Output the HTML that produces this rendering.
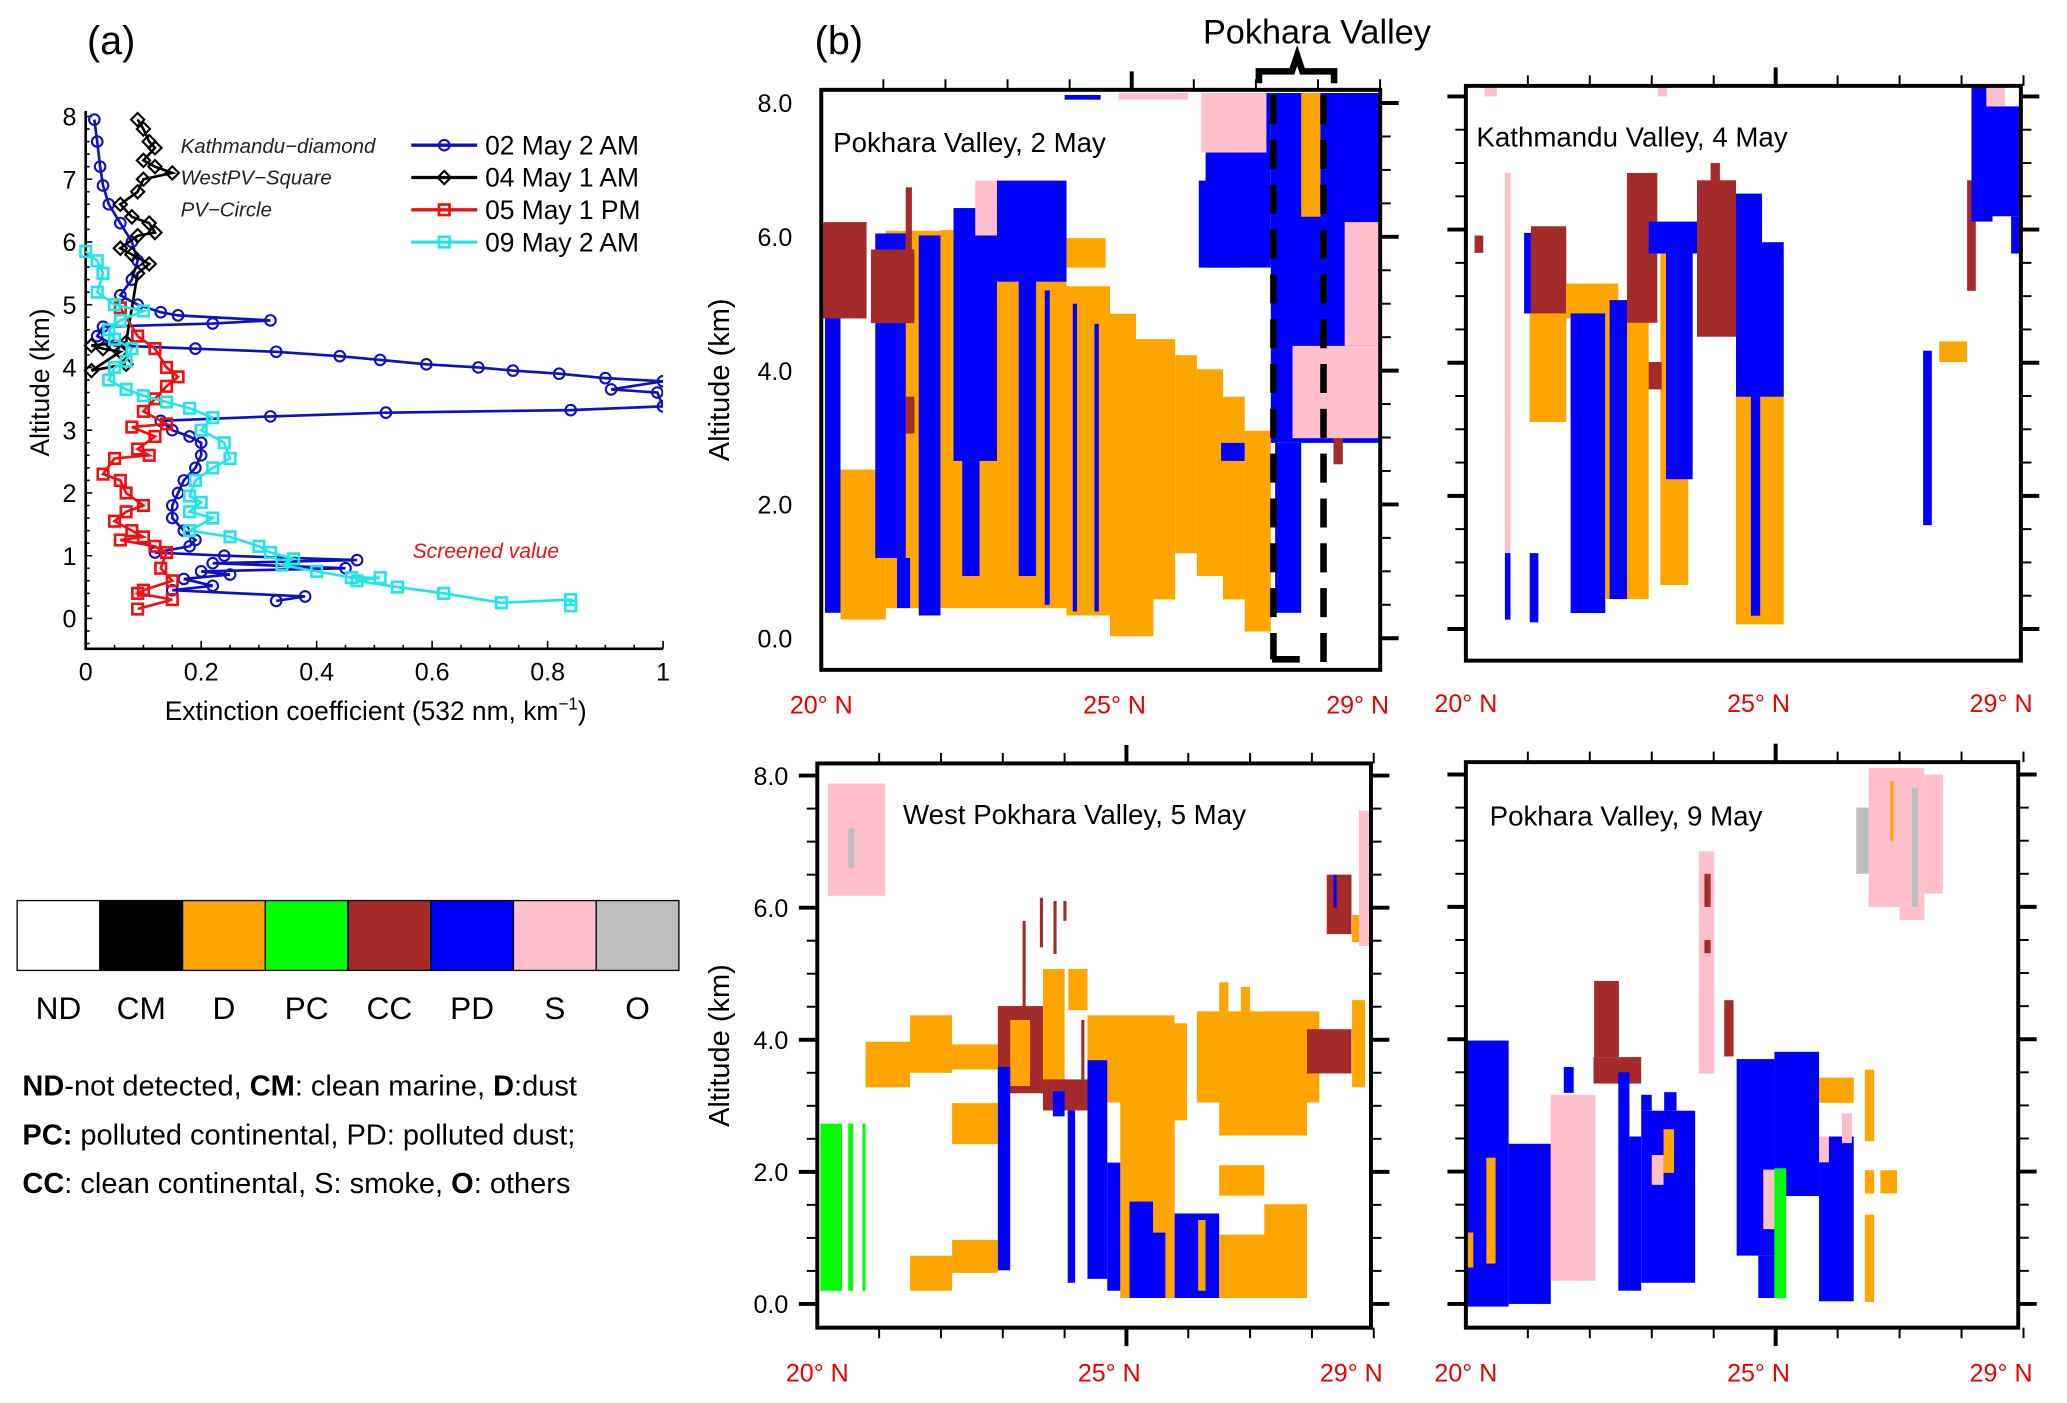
<!DOCTYPE html>
<html><head><meta charset="utf-8"><style>
html,body{margin:0;padding:0;background:#fff}
svg{display:block}
text{font-family:"Liberation Sans",sans-serif}
</style></head><body>
<svg id="root" width="2067" height="1403" viewBox="0 0 1568 1064" xmlns="http://www.w3.org/2000/svg">
<rect width="1568" height="1064" fill="#fff"/>
<text x="66" y="41" font-size="30">(a)</text>
<text x="618" y="41" font-size="30">(b)</text>
<text x="999" y="33" font-size="26" text-anchor="middle">Pokhara Valley</text>
<path d="M955,63 L955,54 L980,54 L984,42 L988,54 L1012,54 L1012,63" fill="none" stroke="#000" stroke-width="5"/>
<g id="pa"></g>
<g id="leg"></g>
<g id="c1"></g>
<g id="c2"></g>
<g id="c3"></g>
<g id="c4"></g>
<text x="17" y="831" font-size="22"><tspan font-weight="bold">ND</tspan>-not detected, <tspan font-weight="bold">CM</tspan>: clean marine, <tspan font-weight="bold">D</tspan>:dust</text>
<text x="17" y="868" font-size="22"><tspan font-weight="bold">PC:</tspan> polluted continental, PD: polluted dust;</text>
<text x="17" y="905" font-size="22"><tspan font-weight="bold">CC</tspan>: clean continental, S: smoke, <tspan font-weight="bold">O</tspan>: others</text>
<g id="dash">
<line x1="966" y1="72" x2="966" y2="500" stroke="#000" stroke-width="5" stroke-dasharray="22,12"/>
<line x1="1004" y1="72" x2="1004" y2="502" stroke="#000" stroke-width="5" stroke-dasharray="22,12"/>
<line x1="965" y1="500" x2="986" y2="500" stroke="#000" stroke-width="5"/>
</g>
</svg>
<script>
const NS="http://www.w3.org/2000/svg";
// ---- Panel (a) data ----
const blueX=[0.015,0.02,0.025,0.03,0.04,0.06,0.08,0.09,0.08,0.06,0.09,0.13,0.16,0.32,0.22,0.03,0.02,0.05,0.19,0.33,0.44,0.51,0.59,0.68,0.74,0.82,0.9,1.0,0.91,0.99,1.0,0.84,0.52,0.32,0.13,0.15,0.18,0.2,0.2,0.19,0.17,0.16,0.15,0.15,0.17,0.19,0.18,0.12,0.24,0.47,0.22,0.45,0.2,0.25,0.17,0.22,0.15,0.38,0.33];
const blueY=[7.95,7.6,7.2,6.9,6.6,6.3,6.0,5.7,5.4,5.15,5.0,4.88,4.83,4.75,4.7,4.65,4.5,4.35,4.3,4.25,4.18,4.12,4.05,4.0,3.95,3.9,3.83,3.78,3.65,3.6,3.38,3.32,3.28,3.22,3.15,3.0,2.9,2.8,2.6,2.4,2.2,2.0,1.8,1.6,1.4,1.25,1.15,1.05,1.0,0.93,0.88,0.8,0.75,0.7,0.63,0.52,0.45,0.35,0.28];
const blackX=[0.09,0.1,0.11,0.12,0.1,0.12,0.15,0.1,0.09,0.06,0.08,0.11,0.12,0.09,0.06,0.08,0.11,0.09,0.07,0.01,0.03,0.06,0.01,0.07];
const blackY=[7.95,7.8,7.6,7.5,7.3,7.2,7.1,7.0,6.8,6.6,6.4,6.3,6.15,6.1,5.9,5.8,5.65,5.5,4.4,4.35,4.3,4.25,3.95,4.05];
const redX=[0.06,0.09,0.12,0.14,0.16,0.14,0.12,0.1,0.14,0.08,0.12,0.09,0.11,0.05,0.03,0.06,0.07,0.1,0.07,0.05,0.08,0.1,0.06,0.12,0.14,0.13,0.15,0.1,0.09,0.15,0.09];
const redY=[4.95,4.5,4.3,4.0,3.85,3.7,3.5,3.3,3.1,3.05,2.9,2.7,2.6,2.55,2.3,2.2,2.0,1.8,1.7,1.55,1.4,1.3,1.25,1.15,1.05,0.8,0.6,0.45,0.4,0.3,0.15];
const cyanX=[0.0,0.02,0.03,0.02,0.05,0.1,0.06,0.04,0.05,0.08,0.07,0.05,0.04,0.07,0.1,0.14,0.18,0.22,0.2,0.24,0.25,0.22,0.19,0.18,0.2,0.18,0.22,0.18,0.25,0.3,0.32,0.36,0.34,0.4,0.46,0.51,0.47,0.54,0.62,0.72,0.84,0.84];
const cyanY=[5.85,5.7,5.5,5.2,5.0,4.9,4.75,4.6,4.45,4.3,4.1,4.0,3.8,3.65,3.55,3.45,3.35,3.2,3.0,2.8,2.55,2.4,2.2,1.95,1.85,1.7,1.6,1.4,1.3,1.15,1.05,0.95,0.85,0.75,0.65,0.65,0.6,0.5,0.4,0.25,0.3,0.2];
const xTicksA=[0,0.2,0.4,0.6,0.8,1];
const xTickLabelsA=["0","0.2","0.4","0.6","0.8","1"];
const yTicksA=[0,1,2,3,4,5,6,7,8];
const legendLabels=["02 May  2 AM","04 May  1 AM","05 May  1 PM","09 May  2 AM"];
// ---- Colorbar ----
const typeCodes=["ND","CM","D","PC","CC","PD","S","O"];
const typeColors={ND:"#ffffff",CM:"#000000",D:"#FFA500",PC:"#00FF00",CC:"#A52A2A",PD:"#0000FF",S:"#FFC0CB",O:"#BEBEBE"};
// ---- Curtain data: [lat0, lat1, alt0, alt1, type] ----
const c1Segs=[
[20.31,21.04,0.28,2.52,"D"],[21.04,21.92,0.45,6.09,"D"],[21.92,22.83,0.45,6.1,"D"],[22.83,23.95,0.45,5.6,"D"],[23.95,24.65,0.34,5.26,"D"],[24.65,25.07,0.03,4.85,"D"],[25.07,25.35,0.03,4.47,"D"],[25.35,25.7,0.58,4.47,"D"],[25.7,26.05,1.27,4.23,"D"],[26.05,26.47,0.93,4.02,"D"],[26.47,26.82,0.58,3.61,"D"],[26.82,27.24,0.1,3.1,"D"],[23.95,24.58,5.54,5.98,"D"],[27.73,28.04,6.3,8.15,"D"],[28.22,28.99,6.7,7.67,"D"],
[20.06,20.31,0.38,6.19,"PD"],[20.87,21.36,1.2,6.05,"PD"],[21.22,21.43,0.45,1.2,"PD"],[21.57,21.92,0.34,6.02,"PD"],[22.13,22.83,2.65,6.43,"PD"],[22.27,22.55,0.93,2.65,"PD"],[22.83,23.95,5.33,6.84,"PD"],[23.18,23.46,0.93,5.4,"PD"],[23.6,23.68,0.5,5.2,"PD"],[24.05,24.12,0.4,5.0,"PD"],[24.4,24.47,0.4,4.7,"PD"],[23.92,24.5,8.05,8.12,"PD"],[26.08,26.75,5.54,6.84,"PD"],[26.19,27.24,5.54,8.15,"PD"],[26.44,26.82,2.65,2.92,"PD"],[27.24,28.99,2.92,8.15,"PD"],[27.31,27.73,0.38,2.92,"PD"],
[20.03,20.73,4.78,6.22,"CC"],[20.8,21.5,4.71,5.81,"CC"],[21.36,21.46,5.8,6.74,"CC"],[21.36,21.5,3.06,3.61,"CC"],[28.25,28.4,2.6,4.2,"CC"],
[22.48,22.83,6.02,6.84,"S"],[26.12,27.17,7.26,8.15,"S"],[27.59,28.99,2.99,4.37,"S"],[28.43,28.99,4.37,6.22,"S"],[24.79,25.91,8.05,8.15,"S"],[27.73,28.04,6.3,8.15,"D"]];
const c2Segs=[
[20.63,20.72,1.14,6.85,"S"],[20.63,20.72,0.14,1.14,"PD"],[21.03,21.17,0.1,1.14,"PD"],[20.14,20.28,5.65,5.91,"CC"],[20.94,21.05,4.74,5.95,"PD"],[21.05,21.62,4.6,6.05,"CC"],[21.03,21.62,3.11,4.74,"D"],[21.62,22.46,4.67,5.19,"D"],[21.69,22.25,0.24,4.74,"PD"],[22.25,22.95,0.45,4.94,"D"],[22.32,22.6,0.45,4.94,"PD"],[22.6,23.09,4.6,6.85,"CC"],[23.14,23.59,0.66,5.64,"D"],[22.95,23.73,5.64,6.12,"PD"],[23.23,23.66,2.25,5.64,"PD"],[22.95,23.16,3.6,4.01,"CC"],[24.36,25.13,0.07,5.64,"D"],[23.73,24.36,4.39,6.74,"CC"],[24.36,24.78,3.49,6.54,"PD"],[24.5,25.13,3.49,5.81,"PD"],[24.6,24.75,0.2,3.5,"PD"],[23.95,24.1,6.2,7.0,"CC"],
[27.38,27.52,1.56,4.18,"PD"],[27.64,28.09,4.01,4.32,"D"],[28.09,28.23,5.08,6.74,"CC"],[28.16,28.5,6.12,8.16,"PD"],[28.5,29.0,6.2,7.85,"PD"],[28.8,28.95,5.64,6.2,"PD"],[28.4,28.7,7.85,8.16,"S"],[23.1,23.25,8.0,8.16,"S"],[20.3,20.5,8.0,8.16,"S"]];
const c3Segs=[
[20.05,20.4,0.2,2.73,"PC"],[20.5,20.58,0.2,2.73,"PC"],[20.73,20.78,0.2,2.73,"PC"],
[20.78,21.5,3.28,3.97,"D"],[21.5,22.18,3.5,4.37,"D"],[22.18,22.92,3.55,3.93,"D"],[22.18,22.92,2.42,3.04,"D"],[21.5,22.18,0.2,0.73,"D"],[22.18,22.92,0.47,0.97,"D"],
[22.92,23.65,3.19,4.51,"CC"],[23.12,23.44,3.3,4.3,"D"],[22.92,23.12,0.51,3.59,"PD"],[23.65,24.0,3.08,5.07,"D"],[24.06,24.37,4.45,5.07,"D"],[23.65,24.37,2.93,3.4,"CC"],[23.81,24.0,2.84,3.22,"PD"],[24.05,24.17,0.32,2.93,"PD"],
[23.32,23.37,4.5,5.8,"CC"],[23.6,23.65,5.4,6.15,"CC"],[23.82,23.87,5.3,6.1,"CC"],[23.98,24.03,5.8,6.1,"CC"],[24.27,24.32,3.4,4.3,"CC"],
[24.37,25.78,3.05,4.37,"D"],[25.78,25.98,2.78,4.25,"D"],[24.9,25.78,0.09,3.05,"D"],[24.37,24.69,0.38,3.69,"PD"],[24.69,24.9,0.2,2.14,"PD"],[25.05,25.43,0.09,1.55,"PD"],[25.25,25.63,0.09,1.08,"PD"],[25.78,26.5,0.09,1.37,"PD"],[26.16,26.28,0.2,1.27,"D"],
[26.5,27.92,0.09,1.05,"D"],[27.23,27.92,0.09,1.51,"D"],[26.5,27.23,1.64,2.1,"D"],[26.14,28.12,3.05,4.43,"D"],[26.5,27.92,2.55,3.05,"D"],[26.5,26.65,4.43,4.87,"D"],[26.85,27.0,4.43,4.8,"D"],
[27.92,28.64,3.49,4.16,"CC"],[28.65,28.86,3.28,4.6,"D"],[28.24,28.64,5.6,6.5,"CC"],[28.65,28.86,5.48,5.89,"D"],[28.35,28.4,6.0,6.5,"PD"],
[20.17,21.1,6.18,7.88,"S"],[20.5,20.6,6.6,7.2,"O"],[28.76,28.95,5.42,7.47,"S"]];
const c4Segs=[
[20.01,20.69,-0.04,3.98,"PD"],[20.69,21.37,0,2.42,"PD"],[20.33,20.48,0.61,2.21,"D"],[20.01,20.12,0.55,1.08,"D"],
[21.37,22.09,0.35,3.16,"S"],[21.58,21.74,3.19,3.58,"PD"],[22.06,22.83,3.33,3.73,"CC"],[22.07,22.47,3.73,4.88,"CC"],
[22.46,22.64,0.2,3.5,"PD"],[22.64,22.83,0.2,2.53,"PD"],[22.83,23.7,0.32,2.92,"PD"],[22.83,23.0,2.92,3.16,"PD"],[23.2,23.4,2.92,3.2,"PD"],
[23.19,23.36,1.98,2.64,"D"],[23.0,23.19,1.8,2.25,"S"],[23.76,24.01,3.48,6.84,"S"],[23.85,23.95,6.0,6.5,"CC"],[23.85,23.95,5.3,5.5,"CC"],[24.17,24.32,3.74,4.59,"CC"],
[24.37,24.98,0.73,3.7,"PD"],[24.72,24.98,0.09,0.73,"PD"],[24.98,25.7,1.63,3.81,"PD"],[24.98,25.17,0.09,2.05,"PC"],[24.8,24.98,1.13,2.03,"S"],
[25.7,26.26,0.04,2.53,"PD"],[25.7,25.86,2.14,2.53,"S"],[26.07,26.23,2.43,2.88,"S"],[25.7,26.26,3.04,3.42,"D"],
[26.44,26.59,2.46,3.54,"D"],[26.44,26.59,1.67,2.02,"D"],[26.69,26.96,1.67,2.02,"D"],[26.44,26.59,0.03,1.35,"D"],
[26.3,26.5,6.5,7.5,"O"],[26.5,27.0,6.0,8.1,"S"],[27.0,27.4,5.8,8.1,"S"],[27.2,27.3,6.0,7.8,"O"],[27.4,27.7,6.2,8.0,"S"],[26.85,26.9,7.0,7.9,"D"]];
const latTickLabels=["20° N","25° N","29° N"];
const latTickVals=[20,25,29];
const altTickVals=[0,2,4,6,8];
const altTickLabels=["0.0","2.0","4.0","6.0","8.0"];

function el(tag,attrs,parent){const e=document.createElementNS(NS,tag);for(const k in attrs)e.setAttribute(k,attrs[k]);parent.appendChild(e);return e;}

// ---- Panel (a) ----
(function(){
  const g=document.getElementById('pa');
  const X=v=>65+v*438, Y=v=>469-v*47.6;
  const ax=el('path',{d:`M65,84 L65,492 L503,492`,fill:'none',stroke:'#000','stroke-width':2},g);
  
  
  for(let v=-0.4;v<=8.01;v+=0.2){const maj=Math.abs(v-Math.round(v))<1e-6;el('line',{x1:65,x2:65+(maj?5:3),y1:Y(v),y2:Y(v),stroke:'#000','stroke-width':1.2},g);}
  for(let v=0;v<=1.001;v+=0.05){const maj=Math.abs(v*5-Math.round(v*5))<1e-6;el('line',{x1:X(v),x2:X(v),y1:492,y2:492-(maj?6:3),stroke:'#000','stroke-width':1.2},g);}
  yTicksA.forEach(v=>{const t=el('text',{x:58,y:Y(v)+7,'font-size':19,'text-anchor':'end'},g);t.textContent=String(v);
    });
  xTicksA.forEach((v,i)=>{const t=el('text',{x:X(v),y:516,'font-size':19,'text-anchor':'middle'},g);t.textContent=xTickLabelsA[i];
    });
  const yt=el('text',{x:0,y:0,'font-size':20,'text-anchor':'middle',transform:'translate(37,290) rotate(-90)'},g);yt.textContent='Altitude (km)';
  
  const xt=el('text',{x:285,y:546,'font-size':20,'text-anchor':'middle'},g);xt.innerHTML='Extinction  coefficient (532 nm, km<tspan dy="-8" font-size="13">−1</tspan><tspan dy="8">)</tspan>';
  
  const clip=el('clipPath',{id:'clipA'},g);el('rect',{x:60,y:80,width:443,height:412},clip);
  const series=[[blueX,blueY,'#1010c0','circle'],[blackX,blackY,'#000','diamond'],[redX,redY,'#ee1111','square'],[cyanX,cyanY,'#22e5e5','square']];
  function marker(p,type,x,y,c,name){
    let m;
    if(type==='circle')m=el('circle',{cx:x,cy:y,r:4,fill:'none',stroke:c,'stroke-width':1.6},p);
    else if(type==='diamond')m=el('path',{d:`M${x},${y-5}L${x+5},${y}L${x},${y+5}L${x-5},${y}Z`,fill:'none',stroke:c,'stroke-width':1.6},p);
    else m=el('rect',{x:x-4,y:y-4,width:8,height:8,fill:'none',stroke:c,'stroke-width':2},p);
    
    
  }
  const gs=el('g',{'clip-path':'url(#clipA)'},g);
  series.forEach(([xs,ys,c,mk],si)=>{
    const sg=el('g',{},gs);
    
    
    el('polyline',{points:xs.map((v,i)=>X(v)+','+Y(ys[i])).join(' '),fill:'none',stroke:c,'stroke-width':2},sg);
    xs.forEach((v,i)=>marker(sg,mk,X(v),Y(ys[i]),c,'profile-point'));
  });
  legendLabels.forEach((l,i)=>{
    const y=110+i*24.5;const [,, c,mk]=series[i];
    const lg=el('g',{},g);
    
    
    el('line',{x1:312,x2:362,y1:y,y2:y,stroke:c,'stroke-width':2.5},lg);
    marker(lg,mk,337,y,c,'legend-marker');
    const t=el('text',{x:368,y:y+7,'font-size':20},lg);t.textContent=l;
  });
  ['Kathmandu−diamond','WestPV−Square','PV−Circle'].forEach((s,i)=>{
    const t=el('text',{x:[137,137,137][i],y:[116,140,164][i],'font-size':15.5,'font-style':'italic',fill:'#222'},g);t.textContent=s;
    
  });
  const sv=el('text',{x:313,y:423,'font-size':16,'font-style':'italic',fill:'#ee1111'},g);sv.textContent='Screened value';
  
})();

// ---- Colorbar ----
(function(){
  const g=document.getElementById('leg');const w=502/8;
  typeCodes.forEach((c,i)=>{
    const r=el('rect',{x:13+i*w,y:683,width:w,height:53,fill:typeColors[c],stroke:'#000','stroke-width':1},g);
    
    
    const t=el('text',{x:13+i*w+w/2,y:773,'font-size':24,'text-anchor':'middle'},g);t.textContent=c;
    
    
  });
})();

// ---- Curtains ----
function curtain(id,segs,cfg,title,opts){
  const g=document.getElementById(id);
  const X=lat=>cfg.lx+(lat-20)*cfg.pd, Y=a=>cfg.ay0-a*cfg.pk;
  const cid='clip'+id;
  const cp=el('clipPath',{id:cid},g);el('rect',{x:cfg.bx0,y:cfg.by0,width:cfg.bx1-cfg.bx0,height:cfg.by1-cfg.by0},cp);
  const dg=el('g',{'clip-path':`url(#${cid})`},g);
  segs.forEach(s=>{
    const r=el('rect',{x:X(s[0]),y:Y(s[3]),width:X(s[1])-X(s[0]),height:Y(s[2])-Y(s[3]),fill:typeColors[s[4]]},dg);
    
    
  });
  const b=el('rect',{x:cfg.bx0,y:cfg.by0,width:cfg.bx1-cfg.bx0,height:cfg.by1-cfg.by0,fill:'none',stroke:'#000','stroke-width':3},g);
  
  
  for(let a=-0.5;a<=8.01;a+=0.5){const maj=Math.abs(a-Math.round(a/2)*2)<1e-6;const y=Y(a);if(y<cfg.by0||y>cfg.by1)continue;const L=maj?14:8;
    el('line',{x1:cfg.bx1,x2:cfg.bx1+L,y1:y,y2:y,stroke:'#000','stroke-width':maj?3:1.5},g);
    if(opts.leftTicks)el('line',{x1:cfg.bx0-L,x2:cfg.bx0,y1:y,y2:y,stroke:'#000','stroke-width':maj?3:1.5},g);}
  for(let l=21;l<=29;l++){const x=X(l);const L=l===25?14:8;
    el('line',{x1:x,x2:x,y1:cfg.by0-L,y2:cfg.by0,stroke:'#000','stroke-width':l===25?3:1.5},g);
    if(opts.bottomTicks)el('line',{x1:x,x2:x,y1:cfg.by1,y2:cfg.by1+L,stroke:'#000','stroke-width':l===25?3:1.5},g);}
  if(opts.altLabels)altTickVals.forEach((a,i)=>{const t=el('text',{x:cfg.bx0-22,y:Y(a)+7,'font-size':19,'text-anchor':'end',transform:`scale(1,1)`},g);t.textContent=altTickLabels[i];
    });
  const lx=[cfg.lx, cfg.lx+5*cfg.pd-13, cfg.lx+9*cfg.pd-17];
  latTickLabels.forEach((s,i)=>{const t=el('text',{x:lx[i],y:cfg.labY,'font-size':19,'text-anchor':'middle',fill:'#ee0000'},g);t.textContent=s;
    });
  const tt=el('text',{x:opts.tx,y:opts.ty,'font-size':21},g);tt.textContent=title;
  
  if(opts.yTitle){const yt=el('text',{x:0,y:0,'font-size':22,'text-anchor':'middle',transform:`translate(553,${(cfg.by0+cfg.by1)/2}) rotate(-90)`},g);yt.textContent='Altitude (km)';
    }
}
curtain('c1',c1Segs,{lx:623,pd:47.1,ay0:484,pk:50.75,bx0:623,bx1:1047,by0:68,by1:508,labY:541},'Pokhara Valley, 2 May',{altLabels:true,yTitle:true,tx:632,ty:115});
curtain('c2',c2Segs,{lx:1112,pd:47,ay0:477,pk:50.5,bx0:1112,bx1:1533,by0:65,by1:501,labY:540},'Kathmandu Valley, 4 May',{leftTicks:true,tx:1120,ty:111});
curtain('c3',c3Segs,{lx:620,pd:46.9,ay0:989,pk:50.1,bx0:620,bx1:1040,by0:579,by1:1007,labY:1048},'West Pokhara Valley,  5 May',{altLabels:true,yTitle:true,leftTicks:true,bottomTicks:true,tx:685,ty:625});
curtain('c4',c4Segs,{lx:1112,pd:47,ay0:989,pk:50.2,bx0:1112,bx1:1531,by0:578,by1:1007,labY:1048},'Pokhara Valley,  9 May',{leftTicks:true,bottomTicks:true,tx:1130,ty:626});
document.getElementById('root').appendChild(document.getElementById('dash'));
</script>
</body></html>
